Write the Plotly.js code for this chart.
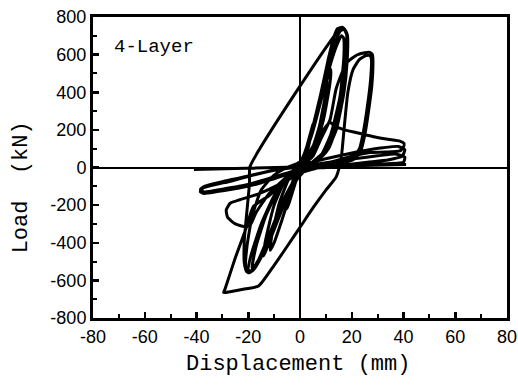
<!DOCTYPE html>
<html>
<head>
<meta charset="utf-8">
<script src="https://cdn.plot.ly/plotly-3.0.1.min.js"></script>
<style>html,body{margin:0;padding:0;background:#fff;}#chart{width:518px;height:385px;}</style>
</head>
<body>
<div id="chart"></div>
<script>
// Displacement (mm) and Load (kN), in loading order
const dispSmall = [0,2,4,5,4.5,2.5,0,-2,-4,-5,-4.5,-2.5,0, 3,6,9,10.5,10,7.5,4,0,-3,-7,-10,-11.5,-11,-8,-4,0,
                   3,7,10,12,11.5,9,5,0,-4,-8,-12,-14,-13.5,-10,-5,0];
const loadSmall = [0,80,180,230,190,70,-10,-90,-180,-220,-170,-60,10, 110,270,420,470,400,220,70,-20,-110,-280,-400,-440,-370,-190,-50,20,
                   120,300,450,520,440,250,80,-10,-120,-260,-400,-470,-400,-200,-50,20];

const dispPeak1 = [4,8,11,13,14.5,16.5,18,17.8,16.5,13.5,9,4,0,-4,-9,-14,-18,-20,-21,-20.5,-18.5,-15,-10,-5,0];
const loadPeak1 = [170,390,580,690,738,745,715,620,420,220,80,20,-30,-120,-290,-450,-545,-560,-530,-420,-260,-120,-40,0,30];

const dispPeak2 = [4,8,11,13.5,15.5,17,18.2,18,16.5,14,10,5,0,-5,-10,-15,-18.5,-20.5,-21.5,-21.5,-20.5,-19.5,-19.3];
const loadPeak2 = [150,350,530,660,725,735,700,580,380,200,80,20,-20,-140,-310,-470,-550,-555,-510,-380,-230,-80,5];

const dispPeak3 = [15.4,17,18.3,18.2,17,14.5,11,6,0,-6,-12,-16,-19,-20,-19,-15,-10,-5,0,
                   5,9,12,14.5,16,16.8,17,15.5,12,8,3,-2,-7,-12,-16,-18,-18.5,-17,-13,-8,-3,0];
const loadPeak3 = [735,740,705,560,400,230,100,30,-20,-160,-360,-490,-550,-545,-470,-300,-150,-50,20,
                   200,400,560,660,700,690,600,380,180,60,0,-80,-220,-380,-500,-545,-530,-420,-250,-110,-30,0];

const dispMid1 = [5,8,11.6,14,18,22,25,27,28,28.2,27.8,26.5,25,23.5,21,14,6,0,
                  -6,-12,-18,-21,-25,-29,-29.5,-27,-21,-16,-10,-5,0,5,10,14];
const loadMid1 = [60,150,254,420,556,598,610,612,600,560,440,300,170,90,45,15,-5,-30,
                  -80,-150,-207,-330,-480,-647,-665,-660,-645,-630,-520,-420,-318,-215,-120,-50];

const dispMid2 = [16,17,18.5,20.5,23,25.5,27,27.6,27.3,26,24.5,23,20,12,5,0,
                  -8,-16,-23,-27,-28.5,-28,-25,-21,-19,-17,-12,-6,0];
const loadMid2 = [60,200,400,520,575,595,595,575,470,320,190,100,55,25,0,-25,
                  -90,-140,-170,-190,-225,-265,-300,-315,-300,-240,-140,-60,10];

const dispLarge = [4,8,11.6,13,16.6,22,28,34,38.6,40.2,40,38.6,33,27,20,12,5,0,
                   -8,-16,-24,-32,-37,-38.5,-38,-34,-26,-18,-10,0,
                   8,16,24,32,38,40.5,39.5,34,26,18,8,0,
                   -10,-20,-30,-36,-38.5,-37,-30,-20,-10,0,
                   10,20,30,37,40.5,40,30,20,10,0,
                   -10,-20,-30,-37,-38.5,-37,-30,-20,-10,0,10,20,30,41,
                   -41];
const loadLarge = [90,180,240,225,203,185,165,150,140,128,108,88,82,80,60,30,5,-15,
                   -50,-85,-110,-128,-138,-130,-112,-95,-70,-40,-15,10,
                   40,65,88,105,112,95,60,40,28,15,0,-15,
                   -60,-95,-120,-135,-125,-105,-80,-45,-15,5,
                   25,45,62,72,55,28,18,10,0,-10,
                   -50,-90,-115,-130,-118,-100,-75,-45,-15,3,8,13,15,16,
                   -10];

const xTickVals = [-80,-60,-40,-20,0,20,40,60,80];
const xTickText = ['-80','-60','-40','-20','0','20','40','60','80'];
const yTickVals = [-800,-600,-400,-200,0,200,400,600,800];
const yTickText = ['-800','-600','-400','-200','0','200','400','600','800'];

const disp = [].concat(dispSmall, dispPeak1, dispPeak2, dispPeak3, dispMid1, dispMid2, dispLarge);
const load = [].concat(loadSmall, loadPeak1, loadPeak2, loadPeak3, loadMid1, loadMid2, loadLarge);

const axisCommon = {
  ticks: 'inside', ticklen: 6, tickwidth: 2.5, tickcolor: '#000',
  showline: true, linewidth: 3, linecolor: '#000', mirror: true,
  showgrid: false, zeroline: true, zerolinecolor: '#000', zerolinewidth: 2,
  tickmode: 'array',
  tickfont: {family: 'Liberation Sans, Arial, sans-serif', size: 18, color: '#000'}
};

const layout = {
  width: 518, height: 385,
  margin: {l: 93, r: 11, t: 17, b: 67},
  paper_bgcolor: '#fff', plot_bgcolor: '#fff',
  showlegend: false,
  xaxis: Object.assign({}, axisCommon, {
    range: [-80, 80], tickvals: xTickVals, ticktext: xTickText,
    minor: {dtick: 10, tick0: 0, ticks: 'inside', ticklen: 4, tickwidth: 2, tickcolor: '#000'}
  }),
  yaxis: Object.assign({}, axisCommon, {
    range: [-800, 800], tickvals: yTickVals, ticktext: yTickText,
    minor: {dtick: 100, tick0: 0, ticks: 'inside', ticklen: 4, tickwidth: 2, tickcolor: '#000'}
  }),
  annotations: [
    {text: 'Displacement (mm)', xref: 'paper', yref: 'paper', x: 0.496, y: -0.153,
     xanchor: 'center', yanchor: 'middle', showarrow: false,
     font: {family: 'Liberation Mono, DejaVu Sans Mono, monospace', size: 22, color: '#000'}},
    {text: 'Load\u00a0\u00a0(kN)', xref: 'paper', yref: 'paper', x: -0.174, y: 0.434,
     xanchor: 'center', yanchor: 'middle', textangle: -90, showarrow: false,
     font: {family: 'Liberation Mono, DejaVu Sans Mono, monospace', size: 22, color: '#000'}},
    {text: '4-Layer', xref: 'paper', yref: 'paper', x: 0.046, y: 0.899,
     xanchor: 'left', yanchor: 'middle', showarrow: false,
     font: {family: 'Liberation Mono, DejaVu Sans Mono, monospace', size: 19, color: '#000'}}
  ]
};

Plotly.newPlot('chart', [{
  x: disp, y: load, type: 'scatter', mode: 'lines',
  line: {color: '#000', width: 3, shape: 'spline', smoothing: 0.5},
  hoverinfo: 'skip'
}], layout, {displayModeBar: false, staticPlot: true});
</script>
</body>
</html>
